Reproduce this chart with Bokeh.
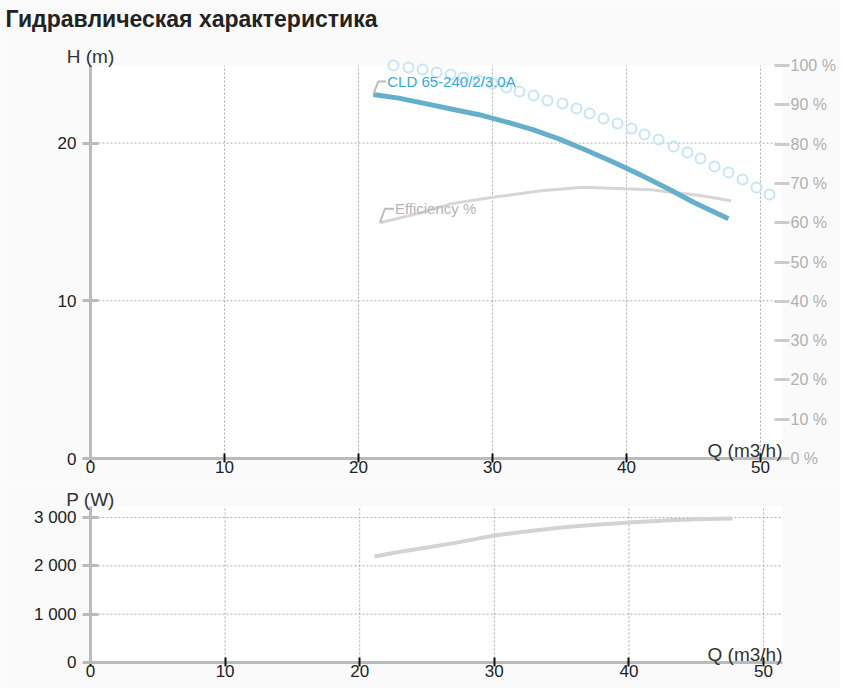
from bokeh.plotting import figure
from bokeh.layouts import column
from bokeh.models import Range1d, LinearAxis, FixedTicker, Label, BoxAnnotation
from bokeh.embed import file_html
from bokeh.resources import INLINE

FONT = "Liberation Sans"

title_text = "Гидравлическая характеристика"
pump_name = "CLD 65-240/2/3.0A"
eff_name = "Efficiency %"
h_label = "H (m)"
p_label = "P (W)"
q_label = "Q (m3/h)"

q_ticks = [0, 10, 20, 30, 40, 50]
h_ticks = [0, 10, 20]
pct_ticks = [0, 10, 20, 30, 40, 50, 60, 70, 80, 90, 100]
pct_labels = ["0 %", "10 %", "20 %", "30 %", "40 %", "50 %", "60 %", "70 %", "80 %", "90 %", "100 %"]
p_ticks = [0, 1000, 2000, 3000]
p_tick_labels = ["0", "1 000", "2 000", "3 000"]

# Head curve H (m)
q_head = [21.1, 23, 25, 27, 29, 31, 33, 35, 37, 39, 41, 43, 45, 47.6]
head = [23.08, 22.85, 22.5, 22.15, 21.8, 21.35, 20.85, 20.25, 19.55, 18.8, 18.0, 17.15, 16.25, 15.2]

# Efficiency curve (%)
q_eff = [21.6, 24.4, 26.9, 29.9, 33.8, 36.8, 39.3, 41.8, 45.5, 47.8]
eff = [60.0, 62.3, 64.8, 66.4, 68.2, 69.0, 68.7, 68.4, 66.9, 65.6]

# Dotted (circle) curve
q_pts = [22.61, 23.73, 24.78, 25.82, 26.87, 27.84, 28.96, 30.0, 31.04, 32.01, 33.06, 34.10, 35.22, 36.27,
         37.24, 38.28, 39.33, 40.37, 41.34, 42.39, 43.51, 44.55, 45.52, 46.57, 47.61, 48.66, 49.70, 50.67]
pts = [24.92, 24.79, 24.67, 24.48, 24.35, 24.16, 23.97, 23.78, 23.53, 23.27, 23.02, 22.70, 22.51, 22.19,
       21.88, 21.56, 21.24, 20.93, 20.55, 20.23, 19.78, 19.40, 19.02, 18.52, 18.13, 17.69, 17.18, 16.74]

# Power curve P (W)
q_pow = [21.1, 23, 25, 27, 30, 33, 35, 37, 40, 43, 45, 47.7]
power = [2193, 2290, 2380, 2470, 2628, 2730, 2795, 2840, 2897, 2945, 2965, 2979]

# ---------------- geometry (pixels) ----------------
W = 840
AXIS_X = 90            # canvas x of Q = 0
PLOT_R = 782           # canvas x of plot-area right edge
q_end1, h_top = 51.64, 24.92
q_end2, p_top = 51.41, 3228
T_H, T_TOP, T_BOT = 480, 65, 458        # top figure
B_H, B_TOP, B_BOT = 208, 26, 182        # bottom figure

AX_GREY = "#bbbbbb"
GRID = "#adadad"
BG = "#fafafa"


def make_fig(h, xr, yr):
    p = figure(width=W, height=h, x_range=xr, y_range=yr, output_backend="svg",
               toolbar_location=None, title_location=None,
               min_border_left=0, min_border_right=0, min_border_top=0, min_border_bottom=0,
               background_fill_color=BG, border_fill_color=BG, outline_line_color=None)
    p.xgrid.visible = False
    p.ygrid.visible = False
    return p


def style_left(ax, ticks, bounds):
    ax.fixed_location = 0
    ax.bounds = bounds
    ax.ticker = FixedTicker(ticks=ticks)
    ax.axis_line_color = AX_GREY
    ax.axis_line_width = 3
    ax.major_tick_line_color = AX_GREY
    ax.major_tick_line_width = 3
    ax.major_tick_in = 8
    ax.major_tick_out = 8
    ax.minor_tick_line_color = None
    ax.major_label_standoff = 6
    ax.major_label_text_font = FONT
    ax.major_label_text_font_size = "17px"
    ax.major_label_text_color = "#222222"


def style_bottom(ax, bounds):
    ax.fixed_location = 0
    ax.bounds = bounds
    ax.ticker = FixedTicker(ticks=q_ticks)
    ax.axis_line_color = AX_GREY
    ax.axis_line_width = 3
    ax.major_tick_line_color = "#111111"
    ax.major_tick_line_width = 2
    ax.major_tick_in = 5
    ax.major_tick_out = 4
    ax.minor_tick_line_color = None
    ax.major_label_standoff = -2
    ax.major_label_text_font = FONT
    ax.major_label_text_font_size = "17px"
    ax.major_label_text_color = "#222222"


def grid_lines(p, y_ticks, q_end, y_end):
    p.segment(x0=q_ticks, y0=[0] * len(q_ticks), x1=q_ticks, y1=[y_end] * len(q_ticks),
              line_color=GRID, line_width=1, line_dash="2 2")
    p.segment(x0=[0] * len(y_ticks), y0=y_ticks, x1=[q_end] * len(y_ticks), y1=y_ticks,
              line_color=GRID, line_width=1, line_dash="2 2")


# ---------------- Top chart ----------------
ppq1 = (PLOT_R - AXIS_X) / q_end1
pph = (T_BOT - T_TOP) / h_top
ppp = (T_BOT - T_TOP) / 100.0
p1 = make_fig(T_H,
              Range1d(-AXIS_X / ppq1, (W - AXIS_X) / ppq1),
              Range1d(-(T_H - T_BOT) / pph, T_BOT / pph))
p1.extra_y_ranges = {"pct": Range1d(-(T_H - T_BOT) / ppp, T_BOT / ppp)}

p1.add_layout(BoxAnnotation(left=0, right=q_end1, bottom=0, top=h_top, fill_color="white",
                            fill_alpha=1, line_color=None, level="underlay"))
grid_lines(p1, h_ticks[1:], q_end1, h_top)

style_left(p1.yaxis[0], h_ticks, (0, h_top))
style_bottom(p1.xaxis[0], (0, q_end1))

pax = LinearAxis(y_range_name="pct", ticker=FixedTicker(ticks=pct_ticks),
                 major_label_overrides={t: l for t, l in zip(pct_ticks, pct_labels)})
pax.fixed_location = q_end1
pax.bounds = (0, 100)
pax.axis_line_color = None
pax.major_tick_line_color = "#cccccc"
pax.major_tick_line_width = 3
pax.major_tick_in = 8
pax.major_tick_out = 7
pax.minor_tick_line_color = None
pax.major_label_standoff = 1
pax.major_label_text_font = FONT
pax.major_label_text_font_size = "16px"
pax.major_label_text_color = "#b0b0b0"
p1.add_layout(pax, "right")

# curves
p1.line(q_eff, eff, y_range_name="pct", line_color="#d6d6d6", line_width=3)
p1.scatter(q_pts, pts, marker="circle", size=10, fill_color=None, line_color="#c6e6f5", line_width=2)
p1.line(q_head, head, line_color="#66afcc", line_width=5)

# series label connectors (offsets from each curve's first point)
dx1, dy1, dx2 = 0.37, 0.82, 0.6
p1.line([q_head[0], q_head[0] + dx1, q_head[0] + dx1 + dx2],
        [head[0], head[0] + dy1, head[0] + dy1], line_color="#bdbdbd", line_width=2)
p1.add_layout(Label(x=q_head[0] + dx1 + dx2, y=head[0] + dy1, text=pump_name, text_font=FONT,
                    text_font_size="15px", text_color="#3aa8d8", text_align="left",
                    text_baseline="middle", x_offset=1))
ex1, ey1, ex2 = 0.37, 3.56, 0.67
p1.line([q_eff[0], q_eff[0] + ex1, q_eff[0] + ex1 + ex2],
        [eff[0], eff[0] + ey1, eff[0] + ey1], y_range_name="pct", line_color="#bdbdbd", line_width=2)
p1.add_layout(Label(x=q_eff[0] + ex1 + ex2, y=eff[0] + ey1, y_range_name="pct", text=eff_name,
                    text_font=FONT, text_font_size="15px", text_color="#b5b5b5",
                    text_align="left", text_baseline="middle", x_offset=1))

# axis titles & chart title
p1.add_layout(Label(x=0, y=h_top, text=h_label, text_font=FONT, text_font_size="19px",
                    text_color="#333333", text_align="center", text_baseline="bottom", y_offset=-1))
p1.add_layout(Label(x=q_end1, y=0, text=q_label, text_font=FONT, text_font_size="19px",
                    text_color="#333333", text_align="right", text_baseline="bottom", y_offset=-2))
p1.add_layout(Label(x=-AXIS_X / ppq1, y=T_BOT / pph, text=title_text, text_font=FONT,
                    text_font_size="23px", text_font_style="bold", text_color="#222222",
                    text_align="left", text_baseline="alphabetic", x_offset=5, y_offset=-18))

# ---------------- Bottom chart ----------------
ppq2 = (PLOT_R - AXIS_X) / q_end2
ppw = (B_BOT - B_TOP) / p_top
p2 = make_fig(B_H,
              Range1d(-AXIS_X / ppq2, (W - AXIS_X) / ppq2),
              Range1d(-(B_H - B_BOT) / ppw, B_BOT / ppw))
p2.add_layout(BoxAnnotation(left=0, right=q_end2, bottom=0, top=p_top, fill_color="white",
                            fill_alpha=1, line_color=None, level="underlay"))
grid_lines(p2, p_ticks[1:], q_end2, p_top)

style_left(p2.yaxis[0], p_ticks, (0, p_top))
p2.yaxis[0].major_label_overrides = {t: l for t, l in zip(p_ticks, p_tick_labels)}
style_bottom(p2.xaxis[0], (0, q_end2))

p2.line(q_pow, power, line_color="#d3d3d3", line_width=4)

p2.add_layout(Label(x=0, y=p_top, text=p_label, text_font=FONT, text_font_size="19px",
                    text_color="#333333", text_align="center", text_baseline="bottom", y_offset=-3))
p2.add_layout(Label(x=q_end2, y=0, text=q_label, text_font=FONT, text_font_size="19px",
                    text_color="#333333", text_align="right", text_baseline="bottom", y_offset=-2))

layout = column(p1, p2, spacing=0)
open("out.html", "w").write(file_html(layout, INLINE))
